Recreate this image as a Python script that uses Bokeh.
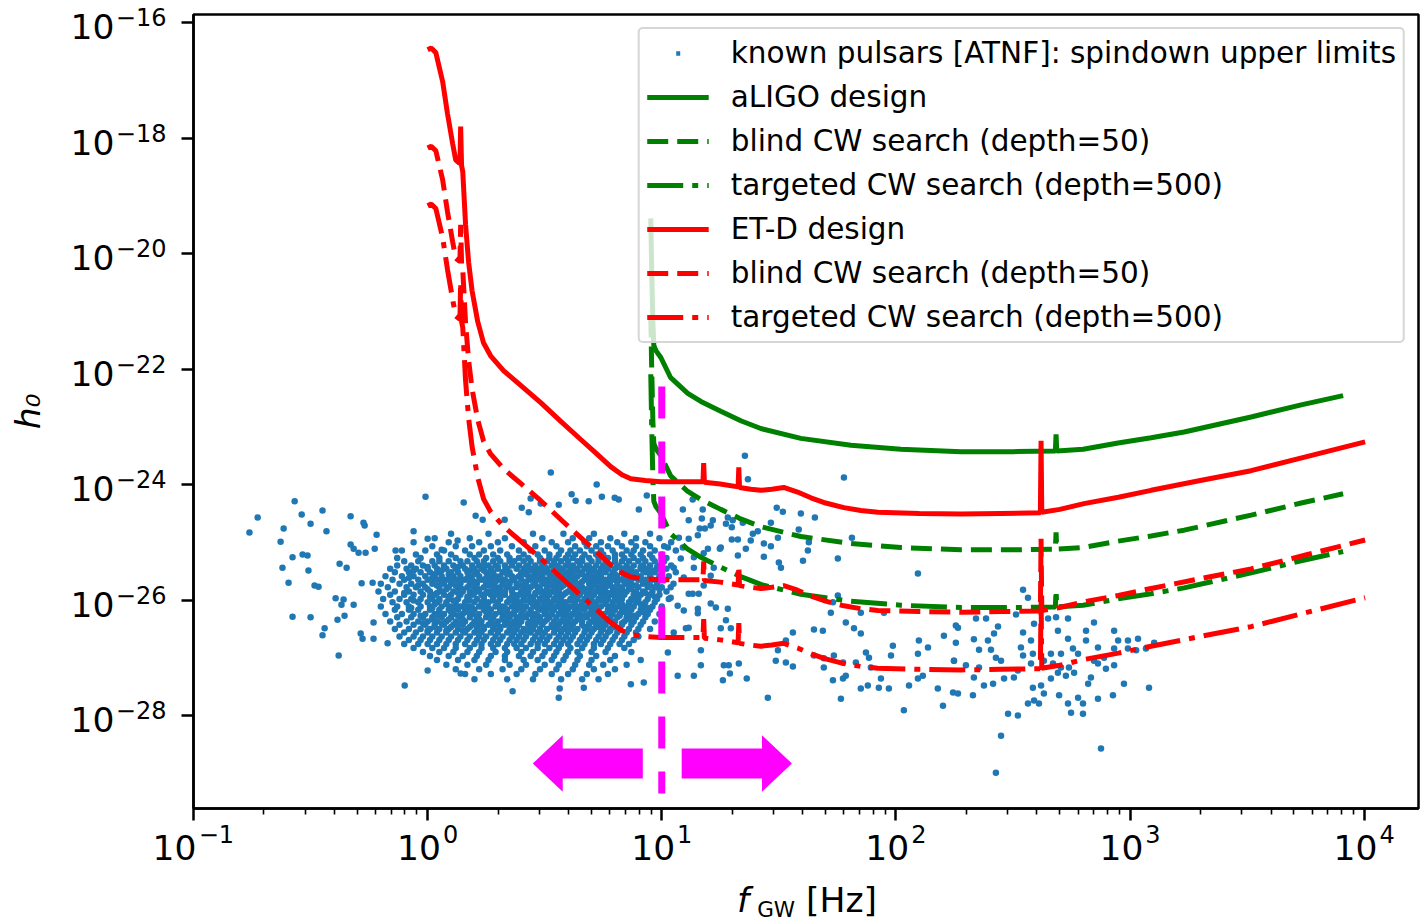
from bokeh.plotting import figure
from bokeh.layouts import column
from bokeh.models import (FixedTicker, Legend, LegendItem, CustomJSTickFormatter, Div,
                          LogAxis, Range1d, LogScale)
from bokeh.embed import file_html
from bokeh.resources import INLINE

# ---------------- data (log10 values) ----------------
# ET-D design sensitivity curve and the two search depths
etd_logf = [0.000, 0.015, 0.035, 0.064, 0.085, 0.107, 0.120, 0.138, 0.141, 0.145, 0.150, 0.162,
            0.175, 0.190, 0.214, 0.239, 0.269, 0.325, 0.400, 0.483, 0.570, 0.654, 0.720, 0.782,
            0.830, 0.868, 0.930, 0.996, 1.100, 1.176, 1.179, 1.182, 1.250, 1.326, 1.329, 1.332,
            1.380, 1.423, 1.470, 1.521, 1.580, 1.637, 1.700, 1.778, 1.850, 1.923, 2.100, 2.278,
            2.450, 2.617, 2.620, 2.623, 2.700, 2.803, 2.950, 3.090, 3.300, 3.517, 3.750, 4.004]
etd_design_logh = [-16.47, -16.44, -16.52, -17.02, -17.58, -18.10, -18.38, -18.44, -17.80, -18.48, -18.58, -19.50,
                   -20.15, -20.65, -21.18, -21.55, -21.77, -22.03, -22.29, -22.58, -22.91, -23.22, -23.46, -23.69,
                   -23.83, -23.90, -23.93, -23.95, -23.95, -23.95, -23.63, -23.96, -23.99, -24.04, -23.70, -24.05,
                   -24.08, -24.10, -24.08, -24.05, -24.13, -24.23, -24.32, -24.40, -24.45, -24.48, -24.50, -24.51,
                   -24.50, -24.49, -23.24, -24.48, -24.43, -24.33, -24.22, -24.10, -23.93, -23.76, -23.52, -23.26]
etd_blind_logh = [-18.17, -18.14, -18.22, -18.72, -19.28, -19.80, -20.08, -20.14, -19.50, -20.18, -20.28, -21.20,
                  -21.85, -22.35, -22.88, -23.25, -23.47, -23.73, -23.99, -24.28, -24.61, -24.92, -25.16, -25.39,
                  -25.53, -25.60, -25.63, -25.65, -25.65, -25.65, -25.33, -25.66, -25.69, -25.74, -25.40, -25.75,
                  -25.78, -25.80, -25.78, -25.75, -25.83, -25.93, -26.02, -26.10, -26.15, -26.18, -26.20, -26.21,
                  -26.20, -26.19, -24.94, -26.18, -26.13, -26.03, -25.92, -25.80, -25.63, -25.46, -25.22, -24.96]
etd_targeted_logh = [-19.17, -19.14, -19.22, -19.72, -20.28, -20.80, -21.08, -21.14, -20.50, -21.18, -21.28, -22.20,
                     -22.85, -23.35, -23.88, -24.25, -24.47, -24.73, -24.99, -25.28, -25.61, -25.92, -26.16, -26.39,
                     -26.53, -26.60, -26.63, -26.65, -26.65, -26.65, -26.33, -26.66, -26.69, -26.74, -26.40, -26.75,
                     -26.78, -26.80, -26.78, -26.75, -26.83, -26.93, -27.02, -27.10, -27.15, -27.18, -27.20, -27.21,
                     -27.20, -27.19, -25.94, -27.18, -27.13, -27.03, -26.92, -26.80, -26.63, -26.46, -26.22, -25.96]

# aLIGO design sensitivity curve and the two search depths
aligo_logf = [0.953, 0.957, 0.962, 0.966, 0.975, 0.996, 1.038, 1.111, 1.167, 1.252, 1.340, 1.423, 1.594,
              1.808, 2.021, 2.278, 2.500, 2.681, 2.684, 2.687, 2.800, 2.949, 3.090, 3.231, 3.517, 3.731, 3.910]
aligo_design_logh = [-19.39, -20.30, -21.20, -21.59, -21.68, -21.80, -22.15, -22.42, -22.56, -22.73, -22.90, -23.03, -23.20,
                     -23.32, -23.39, -23.43, -23.43, -23.42, -23.13, -23.42, -23.39, -23.28, -23.19, -23.09, -22.83, -22.62, -22.46]
aligo_blind_logh = [-21.09, -22.00, -22.90, -23.29, -23.38, -23.50, -23.85, -24.12, -24.26, -24.43, -24.60, -24.73, -24.90,
                    -25.02, -25.09, -25.13, -25.13, -25.12, -24.83, -25.12, -25.09, -24.98, -24.89, -24.79, -24.53, -24.32, -24.16]
aligo_targeted_logh = [-22.09, -23.00, -23.90, -24.29, -24.38, -24.50, -24.85, -25.12, -25.26, -25.43, -25.60, -25.73, -25.90,
                       -26.02, -26.09, -26.13, -26.13, -26.12, -25.83, -26.12, -26.09, -25.98, -25.89, -25.79, -25.53, -25.32, -25.16]

# known pulsars: individually placed points (log10 f, log10 h0)
psr_logf = [-0.761, -0.726, -0.568, -0.538, -0.449, -0.329, -0.274, -0.269, -0.218, -0.615, -0.628, -0.500, -0.432,
            -0.577, -0.534, -0.513, -0.509, -0.620, -0.594, -0.483, -0.466, -0.577, -0.500, -0.440, -0.449, -0.380,
            -0.385, -0.355, -0.393, -0.359, -0.368, -0.316, -0.282, -0.235, -0.376, -0.346, -0.329, -0.316, -0.295,
            -0.265, -0.226, -0.286, -0.278, -0.231, -0.231, -0.171, -0.098, -0.137, -0.060, -0.009, 0.000, 0.154,
            0.060, 0.128, 0.526, 0.722, 0.615, 0.632, 0.688, 0.744, 0.799, 0.816, 0.936, 0.440, 0.402, 0.432, 0.483,
            0.560, 0.902, 0.205, 0.235, 0.329, 0.000, 0.141, 0.363, 0.560, 0.564, 0.667, 0.868, 0.923,
            1.355, 1.368, 1.778, 1.132, 1.090, 1.175, 1.171, 1.491, 1.517, 1.594, 1.654, 1.282, 1.303, 1.115, 1.218,
            1.209, 1.162, 1.184, 1.274, 1.299, 1.346, 1.410, 1.389, 1.466, 1.496, 1.585, 1.812, 1.154, 1.073, 1.026,
            1.090, 1.115, 1.197, 1.252, 1.299, 1.325, 1.380, 1.436, 1.466, 1.359, 1.436, 1.325, 1.248, 1.624, 1.628,
            1.603, 1.752, 1.500, 1.509, 1.179, 1.137, 1.081, 1.051, 1.137, 1.222, 1.209, 1.094, 1.179, 1.132, 1.158,
            1.115, 1.038, 1.038, 1.068, 1.094, 1.154, 1.209, 1.231, 1.282, 1.274, 1.295, 1.252, 1.154, 1.103, 1.115,
            1.051, 1.026, 1.167, 1.167, 1.068, 1.137, 1.265, 1.286, 1.329, 1.261, 1.291, 1.363, 1.453, 1.496, 1.530,
            1.560, 1.487, 1.530, 1.560, 1.650, 1.688, 1.650, 1.692, 1.692, 1.735, 1.774, 1.731, 1.774, 1.786, 1.765,
            1.722, 1.786, 1.821, 1.850, 1.850, 1.829, 1.872, 1.885, 1.893, 1.936, 1.979, 1.987, 1.949, 1.850, 1.880,
            1.927, 1.970, 2.034, 2.056, 2.094, 2.115, 2.094, 2.137, 2.098, 2.094, 2.179, 2.201, 2.244, 2.248, 2.205,
            2.256, 2.256, 1.731, 1.752,
            2.543, 2.564, 2.265, 2.342, 2.385, 2.436, 2.513, 2.333, 2.393, 2.419, 2.355, 2.406, 2.427, 2.449, 2.248,
            2.299, 2.355, 2.333, 2.265, 2.329, 2.376, 2.415, 2.462, 2.504, 2.521, 2.543, 2.577, 2.534, 2.585, 2.577,
            2.543, 2.590, 2.650, 2.684, 2.735, 2.692, 2.735, 2.812, 2.846, 2.812, 2.863, 2.756, 2.705, 2.662, 2.632,
            2.671, 2.705, 2.739, 2.761, 2.726, 2.692, 2.662, 2.620, 2.585, 2.632, 2.590, 2.564, 2.611, 2.697, 2.735,
            2.778, 2.799, 2.748, 2.799, 2.479, 2.521, 2.821, 2.833, 2.863, 2.889, 2.932, 2.897, 2.927, 2.863, 2.974,
            2.932, 2.949, 2.991, 3.034, 2.991, 3.026, 3.068, 3.103, 3.081, 2.932, 2.846, 2.778, 2.876, 2.427, 2.449]
psr_logh = [-24.83, -24.57, -24.29, -24.52, -24.45, -24.55, -24.66, -24.71, -24.87, -24.76, -24.99, -24.68, -24.81,
            -25.26, -25.21, -25.23, -25.49, -25.44, -25.70, -25.75, -25.77, -26.29, -26.30, -26.49, -26.61, -26.96,
            -26.34, -26.27, -25.97, -25.99, -26.08, -26.08, -25.71, -25.70, -25.37, -25.44, -25.04, -25.11, -25.18,
            -25.18, -25.11, -26.58, -26.67, -26.39, -26.67, -26.75, -27.48, -25.14, -24.81, -24.21, -24.94, -24.31,
            -25.13, -24.97, -23.79, -24.00, -24.17, -24.28, -24.29, -24.21, -24.23, -24.26, -24.19, -24.24, -24.40, -24.48, -24.33,
            -24.35, -24.43, -24.54, -24.61, -24.61, -27.22, -27.27, -27.58, -27.69, -27.53, -27.52, -27.46, -27.43,
            -23.50, -23.91, -23.88, -24.26, -24.43, -24.43, -24.59, -24.40, -24.47, -24.50, -24.57, -24.57, -24.62, -24.62, -24.62,
            -24.71, -24.76, -24.76, -24.68, -24.74, -24.66, -24.81, -24.85, -24.66, -24.92, -24.78, -24.92, -24.88, -24.92, -25.09,
            -25.09, -24.94, -25.11, -25.09, -24.95, -24.95, -24.97, -25.02, -25.07, -25.11, -25.25, -25.23, -25.11, -25.14, -25.00,
            -25.32, -25.28, -25.35, -25.44, -25.19, -25.26, -25.28, -25.44, -25.44, -25.44, -25.58, -25.61, -25.75, -25.89, -25.89,
            -25.89, -25.78, -25.96, -26.10, -26.18, -26.15, -26.06, -26.13, -26.15, -26.35, -26.49, -26.49, -26.23, -26.49, -26.48,
            -26.56, -26.91, -26.87, -27.13, -27.31, -27.31, -27.13, -27.13, -27.10, -27.39, -27.27, -27.36, -27.69, -26.87, -26.70,
            -26.56, -27.05, -27.08, -27.15, -26.51, -26.53, -26.96, -27.01, -27.17, -26.96, -27.08, -27.39, -27.36, -27.31, -27.71,
            -26.22, -26.39, -26.49, -26.58, -26.22, -27.08, -26.91, -27.00, -27.17, -27.36, -26.96, -26.79, -26.22, -27.53, -27.48,
            -27.52, -27.53, -27.91, -27.48, -27.36, -27.31, -26.93, -26.82, -26.70, -25.54, -27.53, -27.83, -27.60, -27.05, -26.62,
            -26.44, -26.74, -26.04, -25.92,
            -25.82, -25.96, -26.48, -26.32, -26.32, -26.46, -26.25, -26.68, -26.70, -26.58, -26.86, -26.86, -27.00, -27.05, -27.05,
            -27.13, -27.17, -27.34, -27.62, -27.65, -27.48, -27.45, -27.36, -27.34, -27.22, -26.56, -26.70, -26.82, -26.93, -27.10,
            -26.96, -26.41, -26.32, -26.30, -26.32, -26.53, -26.67, -26.53, -26.39, -26.70, -26.82, -26.84, -26.93, -26.93, -27.05,
            -27.10, -27.17, -27.17, -27.26, -27.31, -27.26, -27.36, -27.48, -27.52, -27.62, -27.74, -27.79, -27.79, -27.65, -27.79,
            -27.69, -27.79, -27.95, -27.97, -27.97, -28.00, -27.45, -27.34, -27.10, -27.00, -27.13, -27.19, -27.65, -27.71, -27.45,
            -26.84, -26.70, -26.70, -26.67, -26.84, -26.87, -26.84, -26.74, -27.52, -26.53, -27.05, -26.93, -28.57, -28.99, -28.35]

# known pulsars: dense low-frequency population, listed row by row (log10 h0 of the row, log10 f of each pulsar)
core_logh = [-24.85, -24.93, -25.00, -25.07, -25.14, -25.21, -25.27,
             -25.33, -25.40, -25.46, -25.52, -25.59, -25.65, -25.72, -25.78, -25.85, -25.91, -25.98, -26.04,
             -26.11, -26.17, -26.24, -26.30, -26.37, -26.43, -26.50, -26.56, -26.63, -26.69, -26.76,
             -26.83, -26.90, -26.97, -27.04, -27.12, -27.20, -27.28, -27.37,
             -25.43, -25.49, -25.555, -25.62, -25.685, -25.75, -25.815, -25.88, -25.945, -26.01, -26.075,
             -26.14, -26.205, -26.27, -26.335, -26.40, -26.465, -26.53]
core_logf = [
    [0.10, 0.26, 0.45, 0.58, 0.71, 0.84, 0.95],
    [0.03, 0.18, 0.33, 0.49, 0.62, 0.69, 0.78, 0.89, 0.99],
    [-0.06, 0.09, 0.22, 0.30, 0.41, 0.53, 0.60, 0.67, 0.74, 0.81, 0.87, 0.93, 1.04],
    [0.02, 0.12, 0.19, 0.27, 0.36, 0.46, 0.55, 0.63, 0.68, 0.72, 0.77, 0.83, 0.89, 0.95, 1.01],
    [-0.11, -0.01, 0.07, 0.16, 0.24, 0.31, 0.39, 0.44, 0.50, 0.57, 0.61, 0.65, 0.70, 0.74, 0.79, 0.85, 0.88, 0.92, 0.97, 1.06],
    [-0.05, 0.04, 0.10, 0.18, 0.22, 0.28, 0.34, 0.41, 0.47, 0.52, 0.56, 0.60, 0.63, 0.67, 0.72, 0.75, 0.80, 0.83, 0.87, 0.91, 0.95, 1.00],
    [-0.13, -0.03, 0.05, 0.12, 0.20, 0.25, 0.30, 0.35, 0.39, 0.43, 0.48, 0.52, 0.55, 0.59, 0.62, 0.66, 0.69, 0.73, 0.77, 0.80, 0.84, 0.88, 0.92, 0.96, 1.02],
    [-0.10, -0.04, 0.02, 0.05, 0.09, 0.14, 0.17, 0.21, 0.24, 0.28, 0.31, 0.35, 0.37, 0.41, 0.44, 0.48, 0.51, 0.54, 0.57, 0.60, 0.64, 0.66, 0.70, 0.73, 0.76, 0.80, 0.83, 0.86, 0.90, 0.93, 0.97, 1.01],
    [-0.13, -0.07, -0.02, 0.03, 0.07, 0.11, 0.15, 0.19, 0.22, 0.26, 0.29, 0.33, 0.36, 0.39, 0.43, 0.46, 0.49, 0.53, 0.55, 0.59, 0.62, 0.65, 0.68, 0.72, 0.75, 0.78, 0.81, 0.85, 0.88, 0.92, 0.95, 0.99, 1.04],
    [-0.16, -0.09, -0.05, 0.00, 0.04, 0.08, 0.12, 0.16, 0.20, 0.23, 0.27, 0.30, 0.34, 0.38, 0.41, 0.45, 0.47, 0.51, 0.54, 0.58, 0.61, 0.63, 0.67, 0.71, 0.74, 0.77, 0.80, 0.84, 0.87, 0.91, 0.94, 0.98, 1.02],
    [-0.14, -0.08, -0.03, 0.01, 0.05, 0.10, 0.13, 0.17, 0.21, 0.25, 0.28, 0.32, 0.35, 0.40, 0.42, 0.46, 0.50, 0.52, 0.56, 0.60, 0.62, 0.66, 0.69, 0.73, 0.76, 0.79, 0.83, 0.86, 0.89, 0.93, 0.97, 1.00, 1.06],
    [-0.18, -0.11, -0.06, -0.01, 0.03, 0.06, 0.11, 0.14, 0.18, 0.22, 0.26, 0.29, 0.31, 0.36, 0.39, 0.43, 0.45, 0.49, 0.53, 0.55, 0.58, 0.61, 0.64, 0.68, 0.70, 0.74, 0.78, 0.81, 0.84, 0.88, 0.91, 0.95, 0.99, 1.03],
    [-0.15, -0.10, -0.04, 0.00, 0.04, 0.08, 0.12, 0.16, 0.19, 0.23, 0.27, 0.30, 0.33, 0.37, 0.40, 0.44, 0.48, 0.51, 0.54, 0.57, 0.60, 0.63, 0.67, 0.70, 0.72, 0.76, 0.80, 0.82, 0.86, 0.90, 0.93, 0.96, 1.01],
    [-0.20, -0.12, -0.07, -0.02, 0.02, 0.07, 0.10, 0.14, 0.18, 0.21, 0.25, 0.28, 0.32, 0.35, 0.38, 0.42, 0.46, 0.49, 0.52, 0.56, 0.59, 0.62, 0.65, 0.69, 0.71, 0.75, 0.77, 0.81, 0.85, 0.87, 0.92, 0.94, 0.98, 1.05],
    [-0.17, -0.09, -0.05, -0.01, 0.05, 0.09, 0.13, 0.17, 0.20, 0.24, 0.29, 0.31, 0.34, 0.38, 0.41, 0.44, 0.47, 0.51, 0.55, 0.57, 0.61, 0.64, 0.66, 0.70, 0.73, 0.76, 0.79, 0.83, 0.86, 0.90, 0.94, 0.97, 1.00],
    [-0.21, -0.14, -0.08, -0.03, 0.01, 0.06, 0.11, 0.15, 0.18, 0.22, 0.26, 0.30, 0.33, 0.36, 0.40, 0.43, 0.47, 0.50, 0.53, 0.56, 0.60, 0.63, 0.66, 0.69, 0.72, 0.75, 0.79, 0.82, 0.85, 0.89, 0.92, 0.96, 1.02],
    [-0.16, -0.10, -0.06, -0.02, 0.03, 0.07, 0.10, 0.14, 0.19, 0.23, 0.27, 0.29, 0.33, 0.37, 0.39, 0.42, 0.46, 0.49, 0.52, 0.55, 0.58, 0.62, 0.65, 0.68, 0.71, 0.74, 0.78, 0.80, 0.84, 0.88, 0.91, 0.95, 0.99],
    [-0.19, -0.12, -0.07, -0.03, 0.02, 0.05, 0.09, 0.13, 0.17, 0.21, 0.24, 0.28, 0.31, 0.35, 0.38, 0.41, 0.45, 0.48, 0.51, 0.54, 0.57, 0.61, 0.64, 0.67, 0.70, 0.73, 0.77, 0.80, 0.83, 0.87, 0.90, 0.94, 0.98, 1.03],
    [-0.15, -0.09, -0.04, 0.00, 0.04, 0.08, 0.12, 0.16, 0.20, 0.23, 0.26, 0.30, 0.34, 0.37, 0.40, 0.44, 0.47, 0.50, 0.53, 0.56, 0.59, 0.63, 0.66, 0.69, 0.72, 0.76, 0.79, 0.82, 0.86, 0.89, 0.93, 0.97],
    [-0.20, -0.13, -0.08, -0.03, 0.01, 0.06, 0.10, 0.14, 0.18, 0.22, 0.25, 0.29, 0.32, 0.36, 0.39, 0.42, 0.46, 0.49, 0.52, 0.55, 0.58, 0.61, 0.65, 0.68, 0.71, 0.74, 0.78, 0.81, 0.84, 0.88, 0.92, 0.96, 1.00],
    [-0.14, -0.08, -0.04, 0.01, 0.05, 0.09, 0.13, 0.16, 0.20, 0.24, 0.27, 0.31, 0.34, 0.38, 0.41, 0.44, 0.48, 0.51, 0.54, 0.57, 0.60, 0.63, 0.67, 0.70, 0.73, 0.77, 0.80, 0.83, 0.87, 0.91, 0.95],
    [-0.18, -0.11, -0.06, -0.01, 0.03, 0.07, 0.11, 0.15, 0.19, 0.22, 0.26, 0.29, 0.33, 0.36, 0.40, 0.43, 0.46, 0.50, 0.53, 0.56, 0.59, 0.62, 0.65, 0.69, 0.72, 0.75, 0.79, 0.82, 0.86, 0.90, 0.94, 0.99],
    [-0.13, -0.07, -0.02, 0.02, 0.06, 0.10, 0.14, 0.18, 0.21, 0.25, 0.28, 0.32, 0.35, 0.38, 0.42, 0.45, 0.48, 0.52, 0.55, 0.58, 0.61, 0.64, 0.68, 0.71, 0.74, 0.78, 0.81, 0.85, 0.89, 0.93],
    [-0.16, -0.09, -0.04, 0.00, 0.04, 0.08, 0.12, 0.16, 0.20, 0.23, 0.27, 0.30, 0.34, 0.37, 0.40, 0.44, 0.47, 0.50, 0.54, 0.57, 0.60, 0.63, 0.66, 0.70, 0.73, 0.76, 0.80, 0.84, 0.88, 0.92, 0.97],
    [-0.12, -0.06, -0.01, 0.03, 0.07, 0.11, 0.15, 0.19, 0.22, 0.26, 0.29, 0.33, 0.36, 0.39, 0.43, 0.46, 0.49, 0.53, 0.56, 0.59, 0.62, 0.66, 0.69, 0.72, 0.76, 0.79, 0.83, 0.87, 0.91],
    [-0.14, -0.08, -0.03, 0.01, 0.05, 0.09, 0.13, 0.17, 0.21, 0.24, 0.28, 0.31, 0.35, 0.38, 0.41, 0.45, 0.48, 0.51, 0.55, 0.58, 0.61, 0.64, 0.68, 0.71, 0.75, 0.78, 0.82, 0.86, 0.90, 0.95],
    [-0.10, -0.05, 0.00, 0.04, 0.08, 0.12, 0.16, 0.20, 0.23, 0.27, 0.30, 0.34, 0.37, 0.40, 0.44, 0.47, 0.50, 0.54, 0.57, 0.60, 0.63, 0.67, 0.70, 0.74, 0.77, 0.81, 0.85, 0.89],
    [-0.12, -0.06, -0.02, 0.02, 0.06, 0.10, 0.14, 0.18, 0.22, 0.25, 0.29, 0.32, 0.36, 0.39, 0.42, 0.46, 0.49, 0.52, 0.56, 0.59, 0.62, 0.66, 0.69, 0.73, 0.76, 0.80, 0.84, 0.90],
    [-0.08, -0.03, 0.01, 0.05, 0.09, 0.13, 0.17, 0.21, 0.24, 0.28, 0.31, 0.35, 0.38, 0.41, 0.45, 0.48, 0.51, 0.55, 0.58, 0.61, 0.65, 0.68, 0.72, 0.75, 0.79, 0.83, 0.88],
    [-0.10, -0.04, 0.00, 0.04, 0.08, 0.12, 0.16, 0.20, 0.23, 0.27, 0.30, 0.34, 0.37, 0.40, 0.44, 0.47, 0.50, 0.54, 0.57, 0.60, 0.64, 0.67, 0.71, 0.74, 0.78, 0.82, 0.86],
    [-0.06, 0.02, 0.07, 0.12, 0.18, 0.23, 0.28, 0.33, 0.38, 0.42, 0.47, 0.52, 0.56, 0.61, 0.66, 0.71, 0.77, 0.84],
    [-0.02, 0.05, 0.11, 0.17, 0.22, 0.29, 0.34, 0.40, 0.45, 0.50, 0.55, 0.60, 0.64, 0.70, 0.76, 0.87],
    [0.01, 0.09, 0.15, 0.21, 0.27, 0.33, 0.39, 0.44, 0.49, 0.54, 0.59, 0.65, 0.72, 0.80],
    [0.04, 0.13, 0.20, 0.26, 0.33, 0.41, 0.47, 0.53, 0.58, 0.64, 0.70, 0.78, 0.91],
    [0.08, 0.17, 0.25, 0.35, 0.42, 0.50, 0.56, 0.63, 0.69, 0.75, 0.85],
    [0.12, 0.22, 0.32, 0.40, 0.48, 0.55, 0.62, 0.71, 0.80],
    [0.16, 0.27, 0.38, 0.46, 0.53, 0.60, 0.68, 0.77],
    [0.20, 0.34, 0.45, 0.57, 0.66, 0.73],
    [0.00, 0.07, 0.13, 0.24, 0.30, 0.42, 0.50, 0.56, 0.61, 0.69, 0.77, 0.82, 0.91, 0.98],
    [-0.06, 0.06, 0.18, 0.24, 0.33, 0.44, 0.48, 0.57, 0.64, 0.70, 0.75, 0.85, 0.92, 0.96],
    [0.03, 0.09, 0.20, 0.27, 0.34, 0.41, 0.47, 0.52, 0.59, 0.66, 0.72, 0.80, 0.87, 0.95],
    [-0.08, 0.02, 0.10, 0.17, 0.25, 0.31, 0.37, 0.46, 0.53, 0.62, 0.68, 0.74, 0.79, 0.88, 0.99],
    [0.06, 0.14, 0.21, 0.29, 0.35, 0.42, 0.50, 0.55, 0.61, 0.66, 0.73, 0.78, 0.84, 0.92],
    [-0.04, 0.04, 0.12, 0.19, 0.26, 0.33, 0.40, 0.45, 0.53, 0.58, 0.63, 0.71, 0.77, 0.89, 0.95],
    [0.00, 0.08, 0.15, 0.22, 0.28, 0.36, 0.43, 0.48, 0.54, 0.62, 0.68, 0.74, 0.81, 0.87, 0.99],
    [-0.10, 0.04, 0.13, 0.20, 0.25, 0.32, 0.41, 0.46, 0.52, 0.59, 0.64, 0.71, 0.77, 0.84, 0.93],
    [0.01, 0.09, 0.17, 0.24, 0.31, 0.36, 0.44, 0.50, 0.57, 0.63, 0.69, 0.76, 0.82, 0.89, 0.97],
    [-0.06, 0.05, 0.11, 0.18, 0.28, 0.35, 0.42, 0.48, 0.55, 0.61, 0.68, 0.74, 0.80, 0.88],
    [0.03, 0.08, 0.16, 0.24, 0.30, 0.38, 0.45, 0.51, 0.57, 0.63, 0.70, 0.76, 0.83, 0.91],
    [-0.07, 0.02, 0.12, 0.19, 0.26, 0.33, 0.40, 0.47, 0.53, 0.59, 0.66, 0.72, 0.79, 0.86, 0.94],
    [0.05, 0.10, 0.17, 0.25, 0.31, 0.37, 0.44, 0.50, 0.58, 0.64, 0.70, 0.77, 0.84, 0.92],
    [-0.03, 0.04, 0.13, 0.21, 0.27, 0.34, 0.41, 0.47, 0.52, 0.60, 0.67, 0.73, 0.82, 0.88],
    [0.02, 0.09, 0.15, 0.22, 0.32, 0.39, 0.45, 0.51, 0.58, 0.65, 0.71, 0.78, 0.86],
    [-0.02, 0.06, 0.13, 0.20, 0.28, 0.35, 0.43, 0.49, 0.55, 0.62, 0.69, 0.75, 0.83],
    [0.03, 0.10, 0.18, 0.24, 0.31, 0.38, 0.44, 0.53, 0.60, 0.67, 0.73, 0.80],
    [0.00, 0.08, 0.15, 0.22, 0.30, 0.36, 0.42, 0.48, 0.57, 0.63, 0.70, 0.78],
]

# 10 Hz divider and the two arrows beneath it
divider_f = 10.0
divider_logh = [-22.30, -29.35]
arrow_logh = -28.83
arrow_left_logf = [0.919, 0.449]    # tail, tip
arrow_right_logf = [1.085, 1.556]   # tail, tip

x_tick_exps = [-1, 0, 1, 2, 3, 4]
y_tick_exps = [-16, -18, -20, -22, -24, -26, -28]

# ---------------- figure ----------------
W = 1420
PH = 880            # figure height; the x-axis title sits in a text block below it
FL, FR, FT, FB = 193, 1418, 14, 808
FONT = "DejaVu Sans"
FS, FSS = 34.5, 24          # tick mantissa / exponent font sizes (px)
X_LO, X_HI = -1.0, 4.232
Y_LO, Y_HI = -29.61, -15.86
PX_PER_DEC_Y = (FB - FT) / (Y_HI - Y_LO)

p = figure(width=W, height=PH, x_axis_type="log", y_axis_type="log",
           x_range=(10 ** X_LO, 10 ** X_HI), y_range=(10 ** Y_LO, 10 ** Y_HI),
           output_backend="svg", toolbar_location=None,
           min_border_left=FL, min_border_right=W - FR, min_border_top=FT, min_border_bottom=PH - FB)
p.background_fill_color = "white"
p.border_fill_color = "white"
p.outline_line_color = "black"
p.outline_line_width = 2.5
p.xgrid.grid_line_color = None
p.ygrid.grid_line_color = None

x_ticks = [10.0 ** k for k in x_tick_exps]
y_ticks = [10.0 ** k for k in y_tick_exps]
minor_x = [m * 10.0 ** k for k in range(-1, 5) for m in range(2, 10)]
blank = CustomJSTickFormatter(code="return ''")

# main axes: spines and tick marks only
xa, ya = p.xaxis[0], p.yaxis[0]
xa.ticker = FixedTicker(ticks=x_ticks, minor_ticks=minor_x)
ya.ticker = FixedTicker(ticks=y_ticks, minor_ticks=[])
for ax in (xa, ya):
    ax.formatter = blank
    ax.axis_line_width = 2.5
    ax.axis_line_color = "black"
    ax.major_tick_out = 12
    ax.major_tick_in = 0
    ax.major_tick_line_width = 2.5
    ax.minor_tick_out = 6
    ax.minor_tick_in = 0
    ax.minor_tick_line_width = 1.6
    ax.major_label_text_font_size = "1px"
    ax.major_label_standoff = 0
ya.minor_tick_line_color = None

# tick labels: "10" and its exponent, each on a label-only axis
def label_axis(fmt_code, size, standoff, ticks, **kw):
    ax = LogAxis(ticker=FixedTicker(ticks=ticks, minor_ticks=[]),
                 formatter=CustomJSTickFormatter(code=fmt_code), **kw)
    ax.axis_line_color = None
    ax.major_tick_line_color = None
    ax.minor_tick_line_color = None
    ax.major_tick_out = 0
    ax.major_tick_in = 0
    ax.minor_tick_out = 0
    ax.minor_tick_in = 0
    ax.major_label_text_font = FONT
    ax.major_label_text_font_size = f"{size}px"
    ax.major_label_text_color = "black"
    ax.major_label_standoff = standoff
    return ax

EXP = "const e = Math.round(Math.log10(tick)); return (e < 0 ? '\\u2212' : '') + Math.abs(e);"
EXP_PADDED = ("const e = Math.round(Math.log10(tick)); "
              "return '\\u2007\\u2007\\u2007' + (e < 0 ? '\\u2212' : '') + Math.abs(e);")
TEN_PADDED = ("const e = Math.round(Math.log10(tick)); "
              "return '10' + (e < 0 ? '\\u2003\\u200a' : '\\u2002');")

# exponent labels sit a few pixels above the tick, the "10" a few pixels below it
d_up, d_down = 5.5 / PX_PER_DEC_Y, 4 / PX_PER_DEC_Y
p.extra_y_ranges = {"ysup": Range1d(10 ** (Y_LO - d_up), 10 ** (Y_HI - d_up)),
                    "yten": Range1d(10 ** (Y_LO + d_down), 10 ** (Y_HI + d_down))}
p.extra_y_scales = {"ysup": LogScale(), "yten": LogScale()}

y_exp_axis = label_axis(EXP, FSS, 15, y_ticks, y_range_name="ysup")
y_ten_axis = label_axis("return '10';", FS, -2, y_ticks, y_range_name="yten")
y_ten_axis.axis_label = "h\u2080"
y_ten_axis.axis_label_text_font = FONT
y_ten_axis.axis_label_text_font_style = "italic"
y_ten_axis.axis_label_text_font_size = f"{FS}px"
y_ten_axis.axis_label_text_color = "black"
y_ten_axis.axis_label_standoff = 20
p.add_layout(y_exp_axis, "left")
p.add_layout(y_ten_axis, "left")

x_exp_axis = label_axis(EXP_PADDED, FSS, 0, x_ticks)
x_ten_axis = label_axis(TEN_PADDED, FS, -24, x_ticks)
p.add_layout(x_exp_axis, "below")
p.add_layout(x_ten_axis, "below")

# ---------------- data renderers ----------------
all_f, all_h = [], []
for lf, lh in zip(psr_logf, psr_logh):
    all_f.append(10 ** lf)
    all_h.append(10 ** lh)
for lh, row in zip(core_logh, core_logf):
    for lf in row:
        all_f.append(10 ** lf)
        all_h.append(10 ** lh)
p.scatter(all_f, all_h, size=6.5, color="#1f77b4", line_color=None)

# legend sample for the pulsars: a single small dot (drawn only inside the legend)
psr_key = p.line([1e-6, 1e-6], [1e-40, 1e-40], color="#1f77b4", line_width=4.5,
                 line_cap="butt", line_dash="0 29 4 1000")

def pw(vals):
    return [10 ** v for v in vals]

LW = 5
DASH = "21 9"
DASHDOT = "36 9 6 9"
GREEN, RED = "#008000", "#ff0000"
g1 = p.line(pw(aligo_logf), pw(aligo_design_logh), color=GREEN, line_width=LW)
g2 = p.line(pw(aligo_logf), pw(aligo_blind_logh), color=GREEN, line_width=LW, line_dash=DASH)
g3 = p.line(pw(aligo_logf), pw(aligo_targeted_logh), color=GREEN, line_width=LW, line_dash=DASHDOT)
r1 = p.line(pw(etd_logf), pw(etd_design_logh), color=RED, line_width=LW)
r2 = p.line(pw(etd_logf), pw(etd_blind_logh), color=RED, line_width=LW, line_dash=DASH)
r3 = p.line(pw(etd_logf), pw(etd_targeted_logh), color=RED, line_width=LW, line_dash=DASHDOT)

MAG = "#ff00ff"
p.line([divider_f, divider_f], pw(divider_logh), color=MAG, line_width=7, line_dash="32 23")

HEAD_L, HEAD_HW, BODY_HW = 0.128, 0.49, 0.26
for tail, tip in (arrow_left_logf, arrow_right_logf):
    d = 1 if tip > tail else -1
    base = tip - d * HEAD_L
    xs = [tail, base, base, tip, base, base, tail]
    ys = [arrow_logh + BODY_HW, arrow_logh + BODY_HW, arrow_logh + HEAD_HW, arrow_logh,
          arrow_logh - HEAD_HW, arrow_logh - BODY_HW, arrow_logh - BODY_HW]
    p.patch(pw(xs), pw(ys), fill_color=MAG, line_color=None)

legend = Legend(items=[
    LegendItem(label="known pulsars [ATNF]: spindown upper limits", renderers=[psr_key]),
    LegendItem(label="aLIGO design", renderers=[g1]),
    LegendItem(label="blind CW search (depth=50)", renderers=[g2]),
    LegendItem(label="targeted CW search (depth=500)", renderers=[g3]),
    LegendItem(label="ET-D design", renderers=[r1]),
    LegendItem(label="blind CW search (depth=50)", renderers=[r2]),
    LegendItem(label="targeted CW search (depth=500)", renderers=[r3]),
], location="top_right")
legend.margin = 13
legend.padding = 7
legend.spacing = 10
legend.glyph_width = 62
legend.glyph_height = 34
legend.label_height = 34
legend.label_standoff = 22
legend.label_text_font = FONT
legend.label_text_font_size = "29.5px"
legend.label_text_color = "black"
legend.background_fill_color = "white"
legend.background_fill_alpha = 0.8
legend.border_line_color = "#cccccc"
legend.border_line_width = 2
legend.border_line_alpha = 0.8
if "border_radius" in Legend.properties():
    legend.border_radius = 5
p.add_layout(legend)

xlabel = Div(text=('<div style="padding-left:737px;padding-top:0px;font-family:\'DejaVu Sans\';'
                   'font-size:34.5px;line-height:40px;color:#000;white-space:nowrap;">'
                   '<i>f</i><span style="font-size:21.5px;margin-left:8px;position:relative;top:5px;">GW</span>'
                   ' [Hz]</div>'),
             width=W, height=923 - PH, margin=0)

layout = column(p, xlabel, spacing=0)
open("out.html", "w").write(file_html(layout, INLINE))
